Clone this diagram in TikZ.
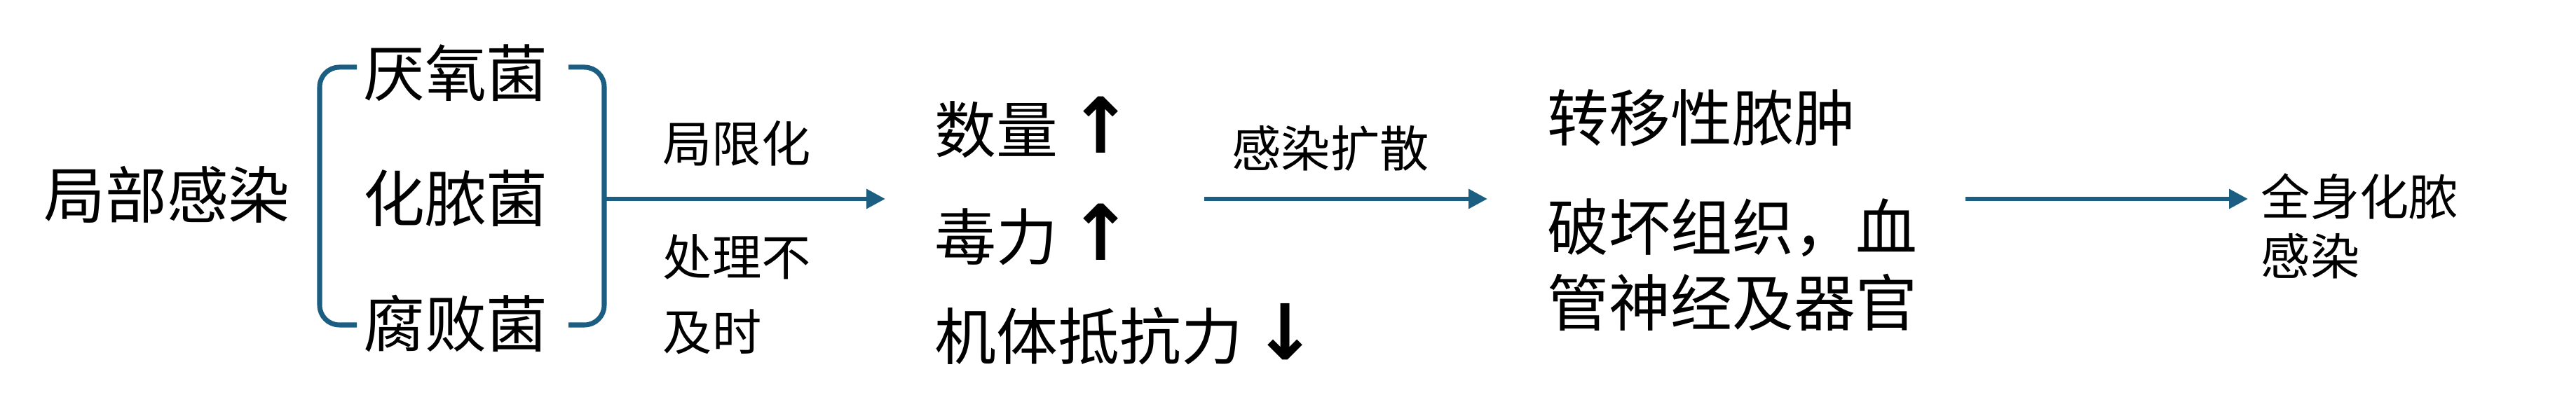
\documentclass[tikz,border=0pt]{standalone}
\usepackage{fontspec}
\setmainfont{Noto Sans CJK SC}
\newfontfamily\arrowfont{DejaVu Sans}[Scale=1.25]
\usepackage{tikz}
\usetikzlibrary{arrows.meta}
\definecolor{linkblue}{RGB}{27,94,130}
\newcommand{\upa}{{\arrowfont\bfseries ↑}}
\newcommand{\dna}{{\arrowfont\bfseries ↓}}
\begin{document}
\begin{tikzpicture}[
  big/.style={inner sep=0pt, font=\fontsize{25pt}{30pt}\selectfont},
  small/.style={inner sep=0pt, font=\fontsize{20pt}{24pt}\selectfont},
  brk/.style={draw=linkblue, line width=2pt, rounded corners=8pt},
  go/.style={draw=linkblue, line width=1.8pt, -{Triangle[length=0.27cm,width=0.27cm]}}
]
\useasboundingbox (0,0) rectangle (36.75,5.84);
\node[big] (local) at (2.38,3.06) {局部感染};
\node[big] (anaer) at (6.50,4.80) {厌氧菌};
\node[big] (pyo) at (6.50,3.01) {化脓菌};
\node[big] (putr) at (6.50,1.22) {腐败菌};
\coordinate (tl) at (5.09,4.88);
\coordinate (bl) at (5.09,1.20);
\coordinate (tr) at (8.11,4.88);
\coordinate (br) at (8.11,1.20);
\draw[brk] (tl) -| (4.56,1.20) -- (bl);
\draw[brk] (tr) -| (8.62,1.20) -- (br);
\coordinate (fork) at (8.62,3.00);
\coordinate (mid) at (12.63,3.00);
\draw[go] (fork) -- (mid);
\node[small] (limit) at (10.51,3.79) {局限化};
\node[small, anchor=west, align=left, font=\fontsize{20pt}{30.5pt}\selectfont] (late) at (9.45,1.64) {处理不\\及时};
\node[big, anchor=west] (count) at (13.33,4.02) {数量\,\upa};
\node[big, anchor=west] (tox) at (13.33,2.49) {毒力\,\upa};
\node[big, anchor=west] (resist) at (13.33,1.07) {机体抵抗力\,\dna};
\coordinate (spreadA) at (17.18,3.00);
\coordinate (spreadB) at (21.22,3.00);
\draw[go] (spreadA) -- (spreadB);
\node[small] (spread) at (18.98,3.72) {感染扩散};
\node[big, anchor=west] (meta) at (22.07,4.16) {转移性脓肿};
\node[big, anchor=west, align=left, font=\fontsize{25pt}{30.7pt}\selectfont] (destroy) at (22.07,2.06) {破坏组织，血\\管神经及器官};
\coordinate (sysA) at (28.04,3.00);
\coordinate (sysB) at (32.07,3.00);
\draw[go] (sysA) -- (sysB);
\node[small, anchor=west, align=left, font=\fontsize{20pt}{24pt}\selectfont] (sys) at (32.25,2.61) {全身化脓\\感染};
\end{tikzpicture}
\end{document}
